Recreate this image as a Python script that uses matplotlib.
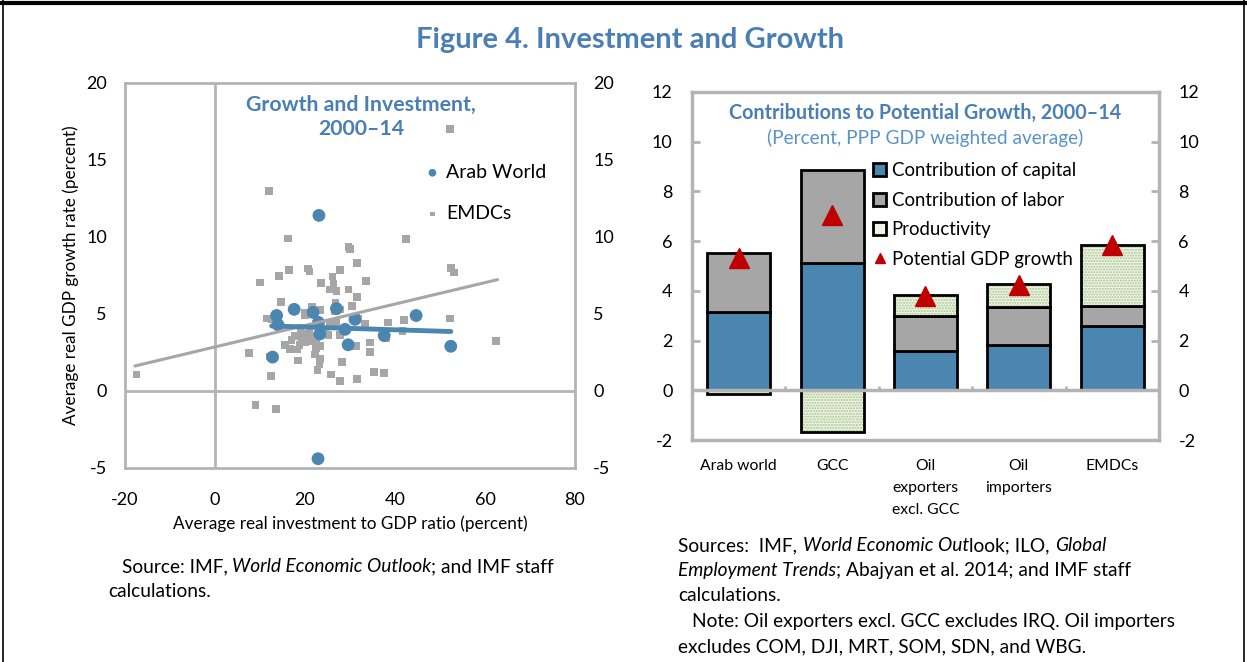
import numpy as np
import matplotlib
matplotlib.use('Agg')
import matplotlib.pyplot as plt
from matplotlib.patches import Patch
from matplotlib.lines import Line2D

plt.rcParams['font.family'] = ['Lato', 'DejaVu Sans']
plt.rcParams['axes.unicode_minus'] = False

# ---- left panel data: growth vs investment, 2000-14
arab_x = [23.1, 22.9, 13.7, 17.6, 27.0, 44.7, 52.4, 12.8, 29.6, 37.6, 28.9, 23.3, 23.0, 21.8, 31.1, 14.0]
arab_y = [11.4, -4.4, 4.9, 5.3, 5.35, 4.9, 2.9, 2.2, 3.0, 3.6, 4.0, 3.7, 4.45, 5.1, 4.65, 4.3]

emdc_x = [52.2, 12.0, 16.2, 42.4, 29.7, 30.0, 31.6, 16.4, 20.7, 21.0, 27.8, 52.4, 53.1, 14.2, 10.0,
          26.1, 23.6, 33.5, 25.6, 27.0, 26.3, 29.7, 31.5, 26.8, 27.8, 14.7, 30.4, 21.5, 23.3, 20.0,
          11.5, 12.6, 31.3, 31.9, 38.4, 42.0, 52.2, 33.3, 41.7, 38.0, 62.4, 27.8, 25.2, 15.6, 16.7,
          23.3, 31.3, 34.4, 34.4, 7.6, 22.2, 12.2, 18.5, 23.3, 23.2, 28.2, 22.8, 25.8, 27.8, 31.5,
          35.3, 37.6, 12.4, -17.4, 9.0, 13.5, 20.0, 25.6, 27.0, 17.8, 19.3, 20.7, 21.8, 20.0, 23.0,
          19.0, 21.0, 24.5, 22.5, 18.8, 20.5, 21.5, 26.7, 19.5, 22.0, 17.0, 18.3, 22.5]
emdc_y = [17.0, 13.0, 9.9, 9.85, 9.35, 9.2, 8.3, 7.86, 7.95, 7.75, 7.87, 8.0, 7.7, 7.47, 7.04,
          7.43, 7.0, 7.14, 6.6, 6.5, 6.94, 6.6, 6.1, 5.74, 5.3, 5.78, 5.52, 5.36, 5.25, 5.09,
          4.7, 4.66, 4.74, 4.66, 4.44, 4.6, 4.7, 4.33, 3.9, 3.4, 3.25, 3.63, 3.63, 2.99, 2.71,
          2.92, 2.92, 3.14, 2.53, 2.45, 2.38, 2.23, 1.99, 2.06, 1.74, 1.88, 1.36, 1.08, 0.65, 0.76,
          1.23, 1.15, 0.97, 1.08, -0.91, -1.19, 4.9, 4.44, 4.44, 3.57, 3.47, 3.57, 3.25, 3.14, 2.92,
          4.1, 3.9, 4.0, 3.3, 3.0, 5.0, 5.45, 5.2, 3.7, 3.6, 3.3, 2.7, 2.8]

# fitted lines (endpoints)
arab_fit_x = [12.6, 52.4]
arab_fit_y = [4.22, 3.86]
emdc_fit_x = [-17.8, 62.8]
emdc_fit_y = [1.62, 7.23]

# ---- right panel data: contributions to potential growth
groups = ['Arab world', 'GCC', 'Oil\nexporters\nexcl. GCC', 'Oil\nimporters', 'EMDCs']
capital = [3.14, 5.13, 1.56, 1.80, 2.60]
labor = [2.36, 3.71, 1.44, 1.53, 0.80]
productivity = [-0.13, -1.69, 0.84, 0.94, 2.44]
potential = [5.30, 7.05, 3.80, 4.25, 5.85]

blue = '#4a86b0'
title_blue = '#4a7fb5'
grey = '#a6a6a6'
frame_grey = '#b4b4b4'

fig = plt.figure(figsize=(12.47, 6.62), dpi=100)

# ---------------- left panel
ax1 = fig.add_axes([0.1002, 0.2931, 0.3609, 0.5816])
ax1.set_xlim(-20, 80)
ax1.set_ylim(-5, 20)
ax1.axhline(0, color=frame_grey, lw=2, zorder=1)
ax1.axvline(0, color=frame_grey, lw=2, zorder=1)
ax1.scatter(emdc_x, emdc_y, marker='s', s=30, color=grey, edgecolors='none', zorder=2, label='EMDCs')
ax1.scatter(arab_x, arab_y, marker='o', s=85, color=blue, edgecolors='none', zorder=3, label='Arab World')
ax1.plot(emdc_fit_x, emdc_fit_y, color=grey, lw=2.2, zorder=4, solid_capstyle='round')
ax1.plot(arab_fit_x, arab_fit_y, color=blue, lw=3.5, zorder=5, solid_capstyle='round')

for sp in ax1.spines.values():
    sp.set_color(frame_grey)
    sp.set_linewidth(2)
ax1.set_xticks(np.arange(-20, 81, 20))
ax1.set_yticks(np.arange(-5, 21, 5))
ax1.tick_params(length=0, labelsize=13, labelright=True)
ax1.tick_params(axis='x', pad=17)
ax1.tick_params(axis='y', pad=13)
ax1.set_xlabel('Average real investment to GDP ratio (percent)', fontsize=12.3, labelpad=6)
ax1.set_ylabel('Average real GDP growth rate (percent)', fontsize=12.3, labelpad=5)
ax1.text(0.525, 0.97, 'Growth and Investment,\n2000\u201314', transform=ax1.transAxes,
         ha='center', va='top', fontsize=15.3, fontweight='bold', color=title_blue, linespacing=1.3)
h, l = ax1.get_legend_handles_labels()
ax1.legend(h[::-1], l[::-1], loc='upper left', bbox_to_anchor=(0.64, 0.81), frameon=False,
           fontsize=14, markerscale=0.6, handletextpad=0.1, labelspacing=1.25, handlelength=1.2,
           borderaxespad=0)

# ---------------- right panel
ax2 = fig.add_axes([0.5549, 0.3353, 0.3745, 0.5261])
x = np.arange(len(groups))
capital = np.array(capital)
labor = np.array(labor)
productivity = np.array(productivity)
width = 0.675
ax2.bar(x, capital, width, color=blue, edgecolor='black', lw=2, zorder=3)
ax2.bar(x, labor, width, bottom=capital, color=grey, edgecolor='black', lw=2, zorder=3)
prod_bottom = np.where(productivity >= 0, capital + labor, 0)
ax2.bar(x, productivity, width, bottom=prod_bottom, color='#eef4e6', edgecolor='#a9c48e',
        hatch='......', lw=0, zorder=3)
ax2.bar(x, productivity, width, bottom=prod_bottom, fill=False, edgecolor='black', lw=2, zorder=4)
ax2.plot(x, potential, linestyle='none', marker='^', ms=15, color='#c00000', zorder=6)

ax2.axhline(0, color=frame_grey, lw=2.5, zorder=5)
ax2.vlines(x[:-1] + 0.5, 0, 0.18, color=frame_grey, lw=2, zorder=5)
ax2.set_xlim(-0.5, len(groups) - 0.5)
ax2.set_ylim(-2, 12)
ax2.set_yticks(np.arange(-2, 13, 2))
ax2.set_xticks(x)
ax2.set_xticklabels(groups, fontsize=11.3, linespacing=1.7)
ax2.tick_params(axis='x', length=0, pad=14)
ax2.tick_params(axis='y', direction='in', length=6, width=2, color=frame_grey, labelsize=13,
                pad=14, right=True, labelright=True)
for sp in ax2.spines.values():
    sp.set_color(frame_grey)
    sp.set_linewidth(2.5)
ax2.text(0.5, 0.968, 'Contributions to Potential Growth, 2000\u201314', transform=ax2.transAxes,
         ha='center', va='top', fontsize=14.2, fontweight='bold', color=title_blue)
ax2.text(0.5, 0.893, '(Percent, PPP GDP weighted average)', transform=ax2.transAxes,
         ha='center', va='top', fontsize=13.7, color='#5b93c6')

leg_handles = [Patch(facecolor=blue, edgecolor='black', lw=2),
               Patch(facecolor=grey, edgecolor='black', lw=2),
               Patch(facecolor='#eef4e6', edgecolor='black', lw=2),
               Line2D([], [], linestyle='none', marker='^', ms=7, color='#c00000')]
leg_labels = ['Contribution of capital', 'Contribution of labor', 'Productivity', 'Potential GDP growth']
ax2.legend(leg_handles, leg_labels, loc='upper left', bbox_to_anchor=(0.372, 0.82), frameon=False,
           fontsize=13.4, handlelength=0.7, handleheight=0.7, handletextpad=0.3,
           labelspacing=0.68, borderaxespad=0)

# ---------------- figure title, sources, border
fig.text(0.505, 0.94, 'Figure 4. Investment and Growth', ha='center', va='center',
         fontsize=21, fontweight='bold', color=title_blue)

tx = fig.add_axes([0, 0, 1, 1], zorder=-1)
tx.axis('off')


def rich_line(x0, y0, parts, size=13.8):
    '''Draws a line of text made of (text, italic, gap) segments, in pixel coords.'''
    prev = None
    for s, italic, gap in parts:
        style = 'italic' if italic else 'normal'
        if prev is None:
            prev = tx.text(x0 / 1247, 1 - y0 / 662, s, fontsize=size, fontstyle=style,
                           ha='left', va='baseline')
        else:
            prev = tx.annotate(s, xy=(1, 0), xycoords=prev, xytext=(gap, 0),
                               textcoords='offset points', fontsize=size, fontstyle=style,
                               ha='left', va='bottom')


rich_line(122, 572, [('Source: IMF,', False, 0), ('World Economic Outlook', True, 3),
                     ('; and IMF staff', False, 0)])
rich_line(108, 597, [('calculations.', False, 0)])
rich_line(678, 551, [('Sources:  IMF,', False, 0), ('World Economic Out', True, 4),
                     ('look; ILO,', False, 0), ('Global', True, 4)])
rich_line(678, 576, [('Employment Trends', True, 0), ('; Abajyan et al. 2014; and IMF staff', False, 0)])
rich_line(678, 601, [('calculations.', False, 0)])
rich_line(692, 627, [('Note: Oil exporters excl. GCC excludes IRQ. Oil importers', False, 0)])
rich_line(678, 652, [('excludes COM, DJI, MRT, SOM, SDN, and WBG.', False, 0)])

fig.add_artist(Line2D([0, 1], [0.9955, 0.9955], transform=fig.transFigure, color='black', lw=3))
fig.add_artist(Line2D([0.0025, 0.0025], [0, 1], transform=fig.transFigure, color='black', lw=1.2))
fig.add_artist(Line2D([0.9975, 0.9975], [0, 1], transform=fig.transFigure, color='black', lw=1.2))

fig.savefig('out.png', dpi=100)
